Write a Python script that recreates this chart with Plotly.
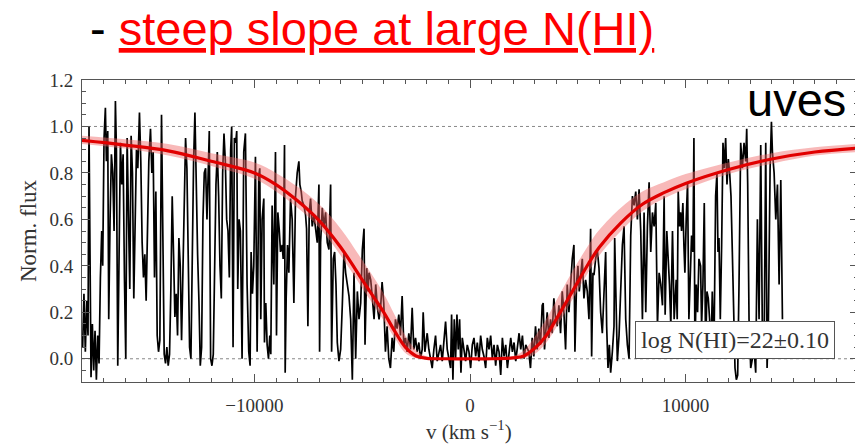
import plotly.graph_objects as go

# ---------------- data ----------------
# observed spectrum (velocity km/s, normalised flux), read strip by strip
spec_v = [
    # -18000 .. -11000
    -17970, -17910, -17845, -17783, -17721, -17675, -17628, -17581, -17519, -17457,
    -17395, -17333, -17271, -17209, -17147, -17085, -17039, -16977, -16915, -16868,
    -16806, -16760, -16698, -16636, -16574, -16512, -16450, -16403, -16341, -16279,
    -16217, -16155, -16093, -16031, -15969, -15907, -15845, -15783, -15721, -15659,
    -15597, -15535, -15473, -15411, -15334, -15272, -15210, -15148, -15086, -15024,
    -14962, -14900, -14822, -14760, -14698, -14636, -14574, -14512, -14450, -14388,
    -14311, -14249, -14187, -14125, -14063, -14001, -13939, -13877, -13815, -13753,
    -13691, -13629, -13567, -13505, -13443, -13381, -13319, -13257, -13195, -13133,
    -13071, -13009, -12947, -12885, -12823, -12761, -12699, -12637, -12575, -12513,
    -12451, -12389, -12327, -12265, -12203, -12141, -12095, -12033, -11971, -11909,
    -11847, -11785, -11723, -11661, -11599, -11537, -11475, -11413, -11351, -11289,
    -11227, -11165, -11103, -11056,
    # -11000 .. -4100
    -10992, -10930, -10868, -10822, -10775, -10713, -10651, -10574, -10496, -10419,
    -10341, -10264, -10202, -10155, -10093, -10031, -9954, -9876, -9799, -9752,
    -9706, -9644, -9566, -9535, -9473, -9411, -9349, -9287, -9241, -9179,
    -9101, -9024, -8977, -8915, -8853, -8791, -8714, -8667, -8605, -8574,
    -8528, -8466, -8404, -8326, -8249, -8171, -8094, -8016, -7939, -7892,
    -7830, -7784, -7706, -7629, -7582, -7520, -7458, -7396, -7319, -7241,
    -7164, -7086, -7009, -6978, -6931, -6854, -6776, -6699, -6621, -6544,
    -6466, -6420, -6342, -6280, -6218, -6156, -6079, -6001, -5924, -5846,
    -5769, -5691, -5614, -5536, -5459, -5381, -5304, -5226, -5149, -5071,
    -4994, -4916, -4870, -4792, -4730, -4684, -4606, -4529, -4451, -4374,
    -4296, -4219, -4141,
    # -4100 .. 2600 (damped core)
    -4078, -4001, -3923, -3846, -3768, -3691, -3613, -3536, -3458, -3381,
    -3303, -3226, -3148, -3071, -2993, -2916, -2838, -2761, -2683, -2606,
    -2528, -2451, -2373, -2296, -2218, -2172, -2094, -1986, -1908, -1831,
    -1753, -1676, -1598, -1521, -1443, -1366, -1288, -1211, -1133, -1056,
    -978, -901, -854, -792, -730, -668, -606, -544, -482, -420,
    -358, -281, -203, -126, -48, 29, 107, 184, 262, 339,
    417, 494, 572, 649, 727, 804, 882, 959, 1037, 1114,
    1192, 1270, 1347, 1425, 1502, 1580, 1657, 1735, 1812, 1890,
    1967, 2045, 2122, 2200, 2277, 2355, 2432, 2510, 2587,
    # 2700 .. 9550
    2729, 2806, 2884, 2961, 3039, 3116, 3194, 3271, 3349, 3395,
    3457, 3519, 3581, 3659, 3736, 3814, 3891, 3969, 4046, 4124,
    4201, 4279, 4356, 4434, 4511, 4589, 4666, 4744, 4821, 4868,
    4945, 5007, 5069, 5131, 5209, 5286, 5364, 5441, 5519, 5596,
    5643, 5705, 5751, 5829, 5906, 5984, 6061, 6139, 6216, 6294,
    6340, 6402, 6464, 6526, 6604, 6681, 6712, 6774, 6836, 6914,
    6991, 7069, 7146, 7224, 7301, 7379, 7456, 7534, 7611, 7689,
    7766, 7844, 7921, 7999, 8076, 8154, 8231, 8309, 8386, 8464,
    8541, 8619, 8696, 8774, 8851, 8929, 9006, 9053, 9130, 9192,
    9254, 9316, 9394, 9471, 9549,
    # 9550 .. 14500
    9566, 9613, 9659, 9721, 9768, 9814, 9876, 9923, 9969, 10031,
    10093, 10155, 10217, 10279, 10341, 10388, 10434, 10496, 10558, 10620,
    10698, 10744, 10806, 10868, 10930, 10992, 11054, 11116, 11178, 11240,
    11318, 11395, 11457, 11504, 11550, 11612, 11674, 11736, 11798, 11860,
    11922, 11984, 12046, 12108, 12170, 12232, 12294, 12356, 12418, 12480,
    12558, 12635, 12713, 12790, 12837, 12883, 12945, 13023, 13100, 13178,
    13255, 13333, 13410, 13488, 13565, 13643, 13720, 13782, 13844, 13922,
    13984, 14030, 14108, 14185, 14263, 14340, 14418, 14464, 14495,
]
spec_f = [
    0.05, 0.28, 0.03, 0.25, 0.10, 1.00, 0.45, -0.08, 0.15, -0.05,
    0.12, -0.09, 0.10, -0.02, 0.35, 0.55, 0.40, 0.95, 1.08, 0.85,
    0.98, 0.17, 0.60, 0.88, 0.80, 0.55, 1.11, 0.90, -0.03, 0.40,
    0.93, 0.75, 0.88, 0.35, 0.00, 0.95, 0.65, 0.30, 0.96, 0.80,
    0.26, 0.70, 0.90, 0.82, 1.06, 0.85, 0.50, 0.35, 0.45, 0.25,
    0.52, 0.85, 0.99, 0.80, 0.89, 0.35, 0.72, 0.10, 0.03, 0.08,
    1.05, 0.40, 0.02, -0.02, 0.05, -0.03, 0.02, 0.30, 0.70, 0.45,
    0.18, 0.28, 0.10, 0.52, 0.40, 0.08, 0.35, 0.75, 0.95, 0.82,
    0.40, 0.05, 0.00, 0.55, 0.85, 1.06, 0.70, 0.45, 0.25, -0.03,
    0.05, 0.60, 0.80, 0.82, 0.60, 0.90, 0.98, 0.00, -0.03, 0.02,
    0.35, 0.75, 0.89, 0.70, 0.40, 0.26, 0.80, 0.97, 0.85, 0.60,
    0.55, 0.35, 0.90, 1.00,
    0.05, 0.95, 0.93, 0.98, 0.30, 0.60, 0.55, 0.00, 0.89, 0.97,
    0.32, 0.03, -0.03, 0.46, 0.28, 0.40, 0.87, 0.03, 0.79, 0.82,
    0.17, 0.60, 0.69, 0.07, 0.24, 0.06, 0.00, 0.10, 0.02, 0.66,
    0.32, 0.89, 0.10, 0.63, 0.56, 0.46, 0.49, 0.43, 0.92, -0.06,
    0.26, 0.49, 0.37, 0.69, 0.60, 0.24, 0.70, 0.80, 0.85, 0.75,
    0.72, 0.68, 0.66, 0.62, 0.56, 0.14, 0.63, 0.69, 0.57, 0.62,
    0.56, 0.50, 0.75, 0.03, 0.50, 0.65, 0.57, 0.63, 0.50, 0.47,
    0.75, 0.03, 0.43, 0.46, 0.32, 0.07, -0.01, 0.04, 0.23, 0.46,
    0.37, 0.32, 0.27, 0.17, -0.09, 0.37, 0.00, 0.29, 0.17, 0.24,
    0.47, 0.56, 0.06, 0.39, 0.29, 0.37, 0.34, 0.26, 0.17, 0.32,
    0.22, 0.17, 0.23,
    0.33, 0.24, 0.03, 0.14, 0.00, -0.04, 0.09, 0.03, 0.17, 0.13,
    0.19, 0.10, 0.27, 0.06, 0.09, 0.03, 0.11, 0.04, 0.22, 0.04,
    0.09, 0.03, 0.07, 0.00, 0.04, 0.20, 0.03, 0.11, 0.04, 0.00,
    -0.04, 0.04, 0.10, -0.01, 0.03, 0.06, -0.01, 0.09, 0.16, 0.04,
    0.00, -0.04, 0.19, -0.09, 0.17, 0.00, 0.19, 0.04, 0.17, -0.06,
    0.09, 0.03, -0.01, 0.06, 0.03, -0.04, 0.06, 0.09, 0.01, 0.07,
    -0.01, 0.10, 0.04, 0.01, -0.04, 0.09, 0.04, 0.10, 0.00, 0.06,
    -0.03, 0.06, 0.03, -0.07, 0.09, 0.01, 0.06, -0.04, 0.04, 0.09,
    0.03, 0.07, -0.01, 0.06, 0.11, 0.04, 0.10, 0.00, 0.06,
    0.03, -0.04, 0.09, 0.01, 0.14, 0.04, 0.13, 0.06, 0.23, 0.24,
    0.04, 0.14, 0.20, 0.09, 0.17, 0.11, 0.26, 0.17, 0.14, 0.23,
    0.11, 0.29, 0.20, 0.04, 0.32, 0.20, 0.34, 0.43, 0.49, 0.03,
    0.33, 0.40, 0.29, 0.37, 0.43, 0.26, 0.34, 0.29, 0.17, 0.56,
    0.01, 0.37, 0.36, 0.43, 0.47, 0.39, 0.20, 0.11, 0.32, 0.46,
    0.14, -0.04, 0.06, -0.06, 0.03, 0.14, 0.52, 0.17, -0.01, 0.10,
    0.29, 0.49, 0.57, 0.17, 0.06, 0.00, 0.53, 0.70, 0.66, 0.72,
    0.60, 0.73, 0.55, 0.17, 0.63, 0.20, 0.57, 0.76, 0.46, 0.63,
    0.57, 0.67, 0.14, 0.37, 0.32, 0.23, 0.70, 0.19, 0.55, 0.46,
    0.32, 0.14, 0.55, 0.17, 0.29,
    0.34, 0.17, 0.72, 0.57, 0.63, 0.55, 0.67, 0.49, 0.37, 0.60,
    0.76, 0.17, 0.32, 0.53, 0.46, 0.95, 0.03, 0.32, 0.20, 0.43,
    0.40, 0.14, 0.32, 0.67, 0.03, 0.29, 0.26, 0.17, 0.00, 0.29,
    0.03, 0.70, 0.80, 0.46, 0.52, 0.17, 0.49, 0.93, 0.82, 0.95,
    0.75, 0.86, 0.80, 0.70, 0.46, 0.17, -0.04, -0.09, -0.07, 0.32,
    0.93, 0.82, 0.93, 0.85, 0.99, 0.75, 0.17, -0.04, 0.00, 0.04,
    -0.06, 0.60, 0.17, 0.92, 0.10, 0.03, 0.93, -0.04, 0.17, 0.82,
    1.02, 0.89, 0.80, 0.60, 0.75, 0.32, 0.77, 0.46, 0.17,
]

# damped Lyman-alpha model, log N(HI)=22, with its +/-0.10 dex band
model_v = [-18000, -16000, -14000, -12000, -10000, -9000, -8000, -7000, -6000,
           -5000, -4500, -4000, -3500, -3000, -2500, -2000, -1000, 0, 1000,
           2000, 2500, 3000, 3500, 4000, 4500, 5000, 5500, 6000, 7000,
           8000, 9000, 10000, 12000, 14000, 16000, 18000]
model_f = [0.94, 0.92, 0.895, 0.85, 0.80, 0.75, 0.68, 0.595, 0.48,
           0.34, 0.27, 0.20, 0.12, 0.05, 0.012, 0.002, 0.0, 0.0, 0.0,
           0.004, 0.012, 0.045, 0.095, 0.17, 0.25, 0.33, 0.41, 0.48, 0.585,
           0.665, 0.715, 0.755, 0.815, 0.86, 0.89, 0.907]
band_hi = [0.96, 0.945, 0.925, 0.885, 0.845, 0.80, 0.74, 0.665, 0.56,
           0.425, 0.355, 0.28, 0.19, 0.10, 0.037, 0.01, 0.0, 0.0, 0.0,
           0.012, 0.037, 0.095, 0.165, 0.25, 0.335, 0.415, 0.49, 0.555, 0.65,
           0.72, 0.76, 0.795, 0.845, 0.885, 0.91, 0.925]
band_lo = [0.925, 0.905, 0.875, 0.83, 0.775, 0.72, 0.65, 0.565, 0.445,
           0.305, 0.235, 0.165, 0.09, 0.025, 0.002, 0.0, 0.0, 0.0, 0.0,
           0.002, 0.002, 0.02, 0.065, 0.135, 0.215, 0.295, 0.375, 0.445, 0.55,
           0.635, 0.69, 0.73, 0.795, 0.84, 0.875, 0.89]

x_tickvals = [-10000, 0, 10000]
x_ticktext = ["\u221210000", "0", "10000"]
y_tickvals = [0.0, 0.2, 0.4, 0.6, 0.8, 1.0, 1.2]
y_ticktext = ["0.0", "0.2", "0.4", "0.6", "0.8", "1.0", "1.2"]

# ---------------- figure ----------------
fig = go.Figure()

fig.add_trace(go.Scatter(x=spec_v, y=spec_f, mode="lines",
                         line=dict(color="black", width=1.7), hoverinfo="skip"))
fig.add_trace(go.Scatter(x=model_v, y=band_lo, mode="lines",
                         line=dict(width=0, shape="spline"), hoverinfo="skip"))
fig.add_trace(go.Scatter(x=model_v, y=band_hi, mode="lines", fill="tonexty",
                         fillcolor="rgba(240,100,100,0.45)",
                         line=dict(width=0, shape="spline"), hoverinfo="skip"))
fig.add_trace(go.Scatter(x=model_v, y=model_f, mode="lines",
                         line=dict(color="rgb(225,0,0)", width=3.2, shape="spline"),
                         hoverinfo="skip"))

axis_col = "#555555"
serif = "Liberation Serif, Times New Roman, serif"

fig.update_xaxes(range=[-18000, 18000], tickvals=x_tickvals, ticktext=x_ticktext,
                 ticks="inside", ticklen=8, tickcolor=axis_col, showline=True,
                 linecolor=axis_col, linewidth=1, mirror="ticks", showgrid=False,
                 zeroline=False, ticklabelstandoff=6,
                 tickfont=dict(family=serif, size=19, color="#333"),
                 minor=dict(dtick=1000, tick0=0, ticks="inside", ticklen=4,
                            tickcolor=axis_col, showgrid=False))
fig.update_yaxes(range=[-0.1, 1.2], tickvals=y_tickvals, ticktext=y_ticktext,
                 ticks="inside", ticklen=8, tickcolor=axis_col, showline=True,
                 linecolor=axis_col, linewidth=1, mirror="ticks", showgrid=False,
                 zeroline=False, ticklabelstandoff=4,
                 tickfont=dict(family=serif, size=19, color="#333"),
                 title=dict(text="Norm. flux", standoff=6,
                            font=dict(family=serif, size=23, color="#333")),
                 minor=dict(dtick=0.05, tick0=0, ticks="inside", ticklen=4,
                            tickcolor=axis_col, showgrid=False))

for yv in (0.0, 1.0):
    fig.add_shape(type="line", xref="paper", x0=0, x1=1, yref="y", y0=yv, y1=yv,
                  line=dict(color="#888888", width=1, dash="dot"), layer="below")

# page body has an 8 px margin: shrink the figure by 8 px so the plot area
# lands where the reference has it
fig.update_layout(
    width=855, height=436, showlegend=False,
    margin=dict(l=74, r=5, t=72, b=62, autoexpand=False),
    paper_bgcolor="white", plot_bgcolor="white",
    annotations=[
        dict(text="- <span style='color:#ff0000'><u>steep slope at large N(HI)</u></span>",
             xref="paper", yref="paper", x=0.0077, y=1.17, xanchor="left",
             yanchor="middle", showarrow=False,
             font=dict(family="Liberation Sans, Arial, sans-serif", size=47, color="black")),
        dict(text="uves", xref="paper", yref="paper", x=0.987, y=0.934,
             xanchor="right", yanchor="middle", showarrow=False,
             font=dict(family="Liberation Sans, Arial, sans-serif", size=47, color="black")),
        dict(text="log N(HI)=22\u00b10.10", xref="paper", yref="paper", x=0.842, y=0.139,
             xanchor="center", yanchor="middle", showarrow=False,
             bgcolor="white", bordercolor="#555555", borderwidth=1, borderpad=5,
             font=dict(family=serif, size=24, color="#333")),
        dict(text="v (km s<sup>\u22121</sup>)", xref="paper", yref="paper", x=0.4987,
             y=-0.159, xanchor="center", yanchor="middle", showarrow=False,
             font=dict(family=serif, size=21, color="#333")),
    ],
)

fig.write_html("out.html")
